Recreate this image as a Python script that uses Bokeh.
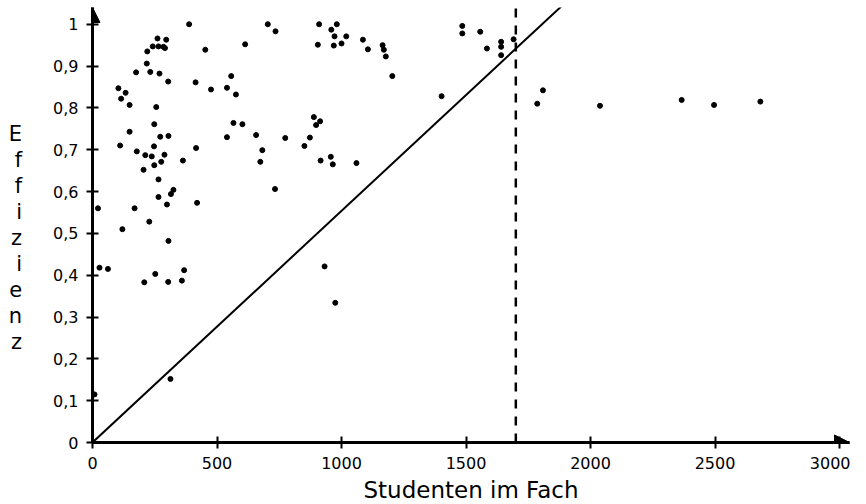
from bokeh.plotting import figure
from bokeh.models import Range1d, FixedTicker, Arrow, NormalHead
from bokeh.embed import file_html
from bokeh.resources import INLINE

# ---- data ----
students = [22, 120, 104, 133, 115, 149, 111, 149, 175, 178, 169, 218, 232, 220,
            261, 242, 265, 285, 296, 291, 269, 304, 256, 248, 272, 305, 247, 212,
            238, 289, 276, 248, 205, 265, 265, 299, 315, 325, 363, 416, 420, 228,
            305, 388, 453, 414, 476, 540, 557, 576, 613, 566, 602, 540, 657, 682,
            674, 704, 735, 733, 774, 8, 28, 62, 208, 252, 304, 359, 368, 313,
            910, 981, 959, 972, 1019, 905, 969, 1000, 1086, 1106, 1165, 1170, 1178,
            1204, 1402, 1485, 1485, 1557, 1584, 1641, 1641, 1641, 1691, 1809, 1786,
            889, 898, 914, 873, 851, 916, 957, 965, 1060, 932, 975,
            2038, 2366, 2496, 2682]
efficiency = [0.560, 0.510, 0.847, 0.836, 0.822, 0.807, 0.710, 0.743, 0.885, 0.696,
              0.560, 0.906, 0.886, 0.935, 0.966, 0.947, 0.947, 0.946, 0.963, 0.943,
              0.882, 0.863, 0.802, 0.761, 0.731, 0.733, 0.708, 0.687, 0.684, 0.688,
              0.671, 0.663, 0.652, 0.629, 0.587, 0.569, 0.594, 0.604, 0.674, 0.704,
              0.573, 0.528, 0.482, 1.000, 0.939, 0.861, 0.844, 0.848, 0.876, 0.832,
              0.952, 0.764, 0.761, 0.730, 0.735, 0.699, 0.671, 1.000, 0.983, 0.606,
              0.728, 0.115, 0.418, 0.415, 0.383, 0.403, 0.384, 0.387, 0.412, 0.152,
              1.000, 1.000, 0.987, 0.971, 0.971, 0.951, 0.949, 0.954, 0.963, 0.940,
              0.950, 0.939, 0.923, 0.876, 0.828, 0.996, 0.978, 0.982, 0.942, 0.958,
              0.946, 0.926, 0.964, 0.842, 0.810, 0.778, 0.759, 0.768, 0.729, 0.709,
              0.674, 0.683, 0.665, 0.668, 0.421, 0.334,
              0.805, 0.819, 0.807, 0.815]

ref_line_x = [0, 1905]
ref_line_y = [0, 1.055]
threshold_x = 1700

x_ticks = [0, 500, 1000, 1500, 2000, 2500, 3000]
y_ticks = [0, 0.1, 0.2, 0.3, 0.4, 0.5, 0.6, 0.7, 0.8, 0.9, 1.0]
y_tick_labels = ["0", "0,1", "0,2", "0,3", "0,4", "0,5", "0,6", "0,7", "0,8", "0,9", "1"]

x_title = "Studenten im Fach"
y_title = "Effizienz"

X_END = 3040
Y_END = 1.04
FONT = "DejaVu Sans"

p = figure(frame_width=757, frame_height=435, output_backend="svg",
           toolbar_location=None, x_range=Range1d(0, X_END), y_range=Range1d(0, Y_END),
           min_border_left=92, min_border_right=1, min_border_top=7, min_border_bottom=46)
p.outline_line_color = None
p.grid.visible = False
p.background_fill_color = "white"
p.border_fill_color = "white"

for ax in (p.xaxis[0], p.yaxis[0]):
    ax.axis_line_width = 3
    ax.axis_line_color = "black"
    ax.major_tick_in = 6
    ax.major_tick_out = 6
    ax.major_tick_line_width = 2
    ax.major_tick_line_color = "black"
    ax.minor_tick_line_color = None
    ax.major_label_text_font = FONT
    ax.major_label_text_font_size = "16px"
    ax.major_label_text_color = "black"
    ax.major_label_standoff = 8
    ax.axis_label_text_font = FONT
    ax.axis_label_text_font_style = "normal"
    ax.axis_label_text_color = "black"

p.xaxis.ticker = FixedTicker(ticks=x_ticks)
p.yaxis.ticker = FixedTicker(ticks=y_ticks)
p.yaxis.major_label_overrides = {t: l for t, l in zip(y_ticks, y_tick_labels)}
p.xaxis.major_label_overrides = {t: str(t) for t in x_ticks}

p.xaxis.axis_label = x_title
p.xaxis.axis_label_text_font_size = "23px"
p.xaxis.axis_label_standoff = 5

# stacked letters; a leading blank line moves the stack down to where the reference has it
p.yaxis.axis_label = "\n" + "\n".join(y_title)
p.yaxis.axis_label_orientation = "horizontal"
p.yaxis.axis_label_text_font_size = "21px"
p.yaxis.axis_label_text_line_height = 1.08
p.yaxis.axis_label_standoff = 28

# axis arrow heads
p.add_layout(Arrow(end=NormalHead(size=15, fill_color="black", line_color="black"),
                   x_start=X_END * 0.95, y_start=0, x_end=X_END, y_end=0,
                   line_width=3, line_color="black"))
p.add_layout(Arrow(end=NormalHead(size=15, fill_color="black", line_color="black"),
                   x_start=0, y_start=Y_END * 0.95, x_end=0, y_end=Y_END,
                   line_width=3, line_color="black"))

# reference diagonal and threshold
p.line(ref_line_x, ref_line_y, line_color="black", line_width=2)
p.line([threshold_x, threshold_x], [0, Y_END], line_color="black", line_width=2.5,
       line_dash="9 8")

p.scatter(students, efficiency, size=5, fill_color="black", line_color="black")

open("out.html", "w").write(file_html(p, INLINE))
